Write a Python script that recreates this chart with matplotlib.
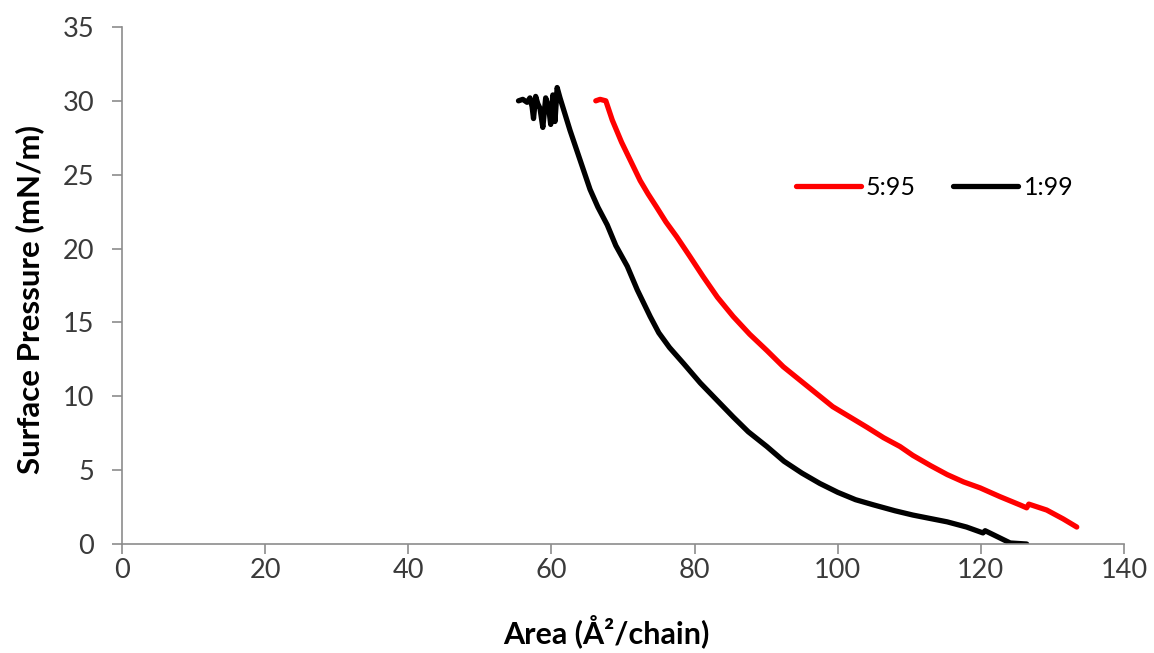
import matplotlib
matplotlib.use("Agg")
import matplotlib.pyplot as plt

# 5:95 isotherm (area per chain, surface pressure)
area_595 = [66.2, 66.8, 67.6, 68.5, 69.8, 71.0, 72.4, 73.5, 74.7, 76.0, 77.5, 79.3,
            81.2, 83.2, 85.4, 87.7, 90.1, 92.4, 94.7, 97.0, 99.3, 101.7, 104.1,
            106.4, 108.7, 110.5, 113.0, 115.3, 117.6, 119.9, 122.7, 125.5, 126.4,
            126.7, 129.2, 131.5, 133.4]
press_595 = [30.0, 30.1, 30.0, 28.7, 27.2, 26.0, 24.6, 23.7, 22.8, 21.8, 20.8, 19.5,
             18.1, 16.7, 15.4, 14.2, 13.1, 12.0, 11.1, 10.2, 9.3, 8.6, 7.9,
             7.2, 6.6, 6.0, 5.3, 4.7, 4.2, 3.8, 3.2, 2.64, 2.45,
             2.7, 2.3, 1.7, 1.15]

# 1:99 isotherm
area_199 = [55.4, 56.0, 56.6, 57.0, 57.3, 57.5, 57.8, 58.1, 58.4, 58.8, 59.2, 59.6,
            59.9, 60.2, 60.5, 60.8, 61.2, 62.6, 64.0, 65.4, 66.5, 67.8, 69.0, 70.6,
            72.0, 73.8, 75.0, 76.5, 78.5, 80.8, 83.0, 85.4, 87.5, 90.1, 92.5, 95.0,
            97.5, 100.0, 102.5, 105.0, 108.0, 110.5, 113.0, 115.3, 118.0, 120.3,
            120.6, 122.5, 124.1, 126.4]
press_199 = [30.0, 30.1, 29.9, 30.2, 29.6, 28.8, 30.3, 29.8, 29.5, 28.2, 30.2, 29.6,
             28.4, 30.4, 28.6, 30.9, 30.2, 28.0, 26.0, 24.0, 22.8, 21.6, 20.2, 18.8,
             17.2, 15.4, 14.3, 13.3, 12.2, 10.9, 9.8, 8.6, 7.6, 6.6, 5.6, 4.8,
             4.1, 3.5, 3.0, 2.65, 2.25, 1.96, 1.72, 1.5, 1.15, 0.75,
             0.9, 0.45, 0.07, 0.0]

x_ticks = [0, 20, 40, 60, 80, 100, 120, 140]
y_ticks = [0, 5, 10, 15, 20, 25, 30, 35]

plt.rcParams['font.family'] = ['Lato', 'DejaVu Sans']

fig = plt.figure(figsize=(11.54, 6.53), dpi=100)
ax = fig.add_axes([0.1057, 0.1669, 0.8683, 0.7918])

ax.plot(area_595, press_595, color='#ff0000', lw=3.8, solid_capstyle='round',
        solid_joinstyle='round', label='5:95')
ax.plot(area_199, press_199, color='black', lw=3.8, solid_capstyle='round',
        solid_joinstyle='round', label='1:99')

ax.set_xlim(0, 140)
ax.set_ylim(0, 35)
ax.set_xticks(x_ticks)
ax.set_yticks(y_ticks)

for s in ['top', 'right']:
    ax.spines[s].set_visible(False)
for s in ['left', 'bottom']:
    ax.spines[s].set_color('#8c8c8c')
    ax.spines[s].set_linewidth(1.2)
ax.tick_params(direction='out', length=7, width=1.2, color='#8c8c8c',
               labelsize=19.5, labelcolor='#3a3a3a')
ax.tick_params(axis='y', pad=13)
ax.tick_params(axis='x', pad=3)

ax.set_xlabel('Area (Å²/chain)', fontsize=22, fontweight='bold')
ax.set_ylabel('Surface Pressure (mN/m)', fontsize=22.4, fontweight='bold')
ax.xaxis.set_label_coords(0.483, -0.135)
ax.yaxis.set_label_coords(-0.078, 0.472)

ax.legend(loc='center', bbox_to_anchor=(0.811, 0.69), ncol=2, frameon=False,
          fontsize=18, handlelength=2.6, handletextpad=0.2, columnspacing=1.5)

fig.savefig('out.png', dpi=100)
